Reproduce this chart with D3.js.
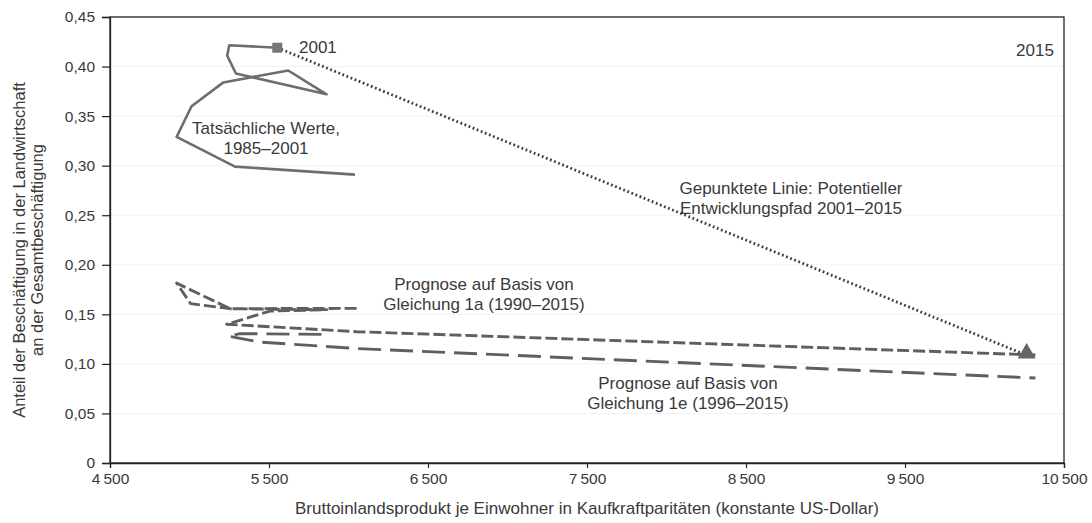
<!DOCTYPE html>
<html><head><meta charset="utf-8">
<script src="https://cdn.jsdelivr.net/npm/d3@7"></script>
<style>
html,body{margin:0;padding:0;background:#fff;}
svg text{font-family:"Liberation Sans",Arial,sans-serif;fill:#3a3a3a;}
</style></head>
<body><svg id="c" width="1092" height="523"></svg>
<script>
// ---- data ----
const xTicks = [4500,5500,6500,7500,8500,9500,10500];
const yTicks = [0,0.05,0.10,0.15,0.20,0.25,0.30,0.35,0.40,0.45];

const actualGDP   = [6041,5286,4919,5013,5213,5621,5862,5292,5237,5250,5552];
const actualShare = [0.291,0.299,0.329,0.360,0.384,0.396,0.372,0.393,0.411,0.4215,0.419];

const potentialGDP   = [5552,10265];
const potentialShare = [0.419,0.1087];

const prog1aGDP   = [6051,5255,4919,5007,5255,5863,5506,5234,6051,10320];
const prog1aShare = [0.156,0.1557,0.1815,0.1608,0.1557,0.1547,0.1533,0.1400,0.1325,0.109];

const prog1eGDP   = [5830,5318,5244,5443,6051,10320];
const prog1eShare = [0.1298,0.1305,0.128,0.122,0.1155,0.0857];

const xTitle = "Bruttoinlandsprodukt je Einwohner in Kaufkraftparitäten (konstante US-Dollar)";
const yTitle = ["Anteil der Beschäftigung in der Landwirtschaft","an der Gesamtbeschäftigung"];

// ---- layout ----
const L=110,R=1064,T=17,B=463;
const svg=d3.select("#c");
const x=d3.scaleLinear().domain([4500,10500]).range([L,R]);
const y=d3.scaleLinear().domain([0,0.45]).range([B,T]);

// faint grid
svg.append("g").selectAll("line").data(yTicks.slice(1)).join("line")
  .attr("x1",L).attr("x2",R).attr("y1",d=>y(d)).attr("y2",d=>y(d))
  .attr("stroke","#f2f2f2").attr("stroke-width",1);

// frame
svg.append("rect").attr("x",L).attr("y",T).attr("width",R-L).attr("height",B-T)
  .attr("fill","none").attr("stroke","#222").attr("stroke-width",1.3);

const fmtY=d=>d===0?"0":d.toFixed(2).replace(".",",");
const fmtX=d=>{const s=String(d);return s.slice(0,s.length-3)+"\u2009"+s.slice(-3);};

const gy=svg.append("g").attr("transform",`translate(${L},0)`)
  .call(d3.axisLeft(y).tickValues(yTicks).tickFormat(fmtY).tickSize(8).tickPadding(7));
const gx=svg.append("g").attr("transform",`translate(0,${B})`)
  .call(d3.axisBottom(x).tickValues(xTicks).tickFormat(fmtX).tickSize(5).tickPadding(5));
[gy,gx].forEach(g=>{
  g.select(".domain").attr("stroke","#222").attr("stroke-width",1.3);
  g.selectAll(".tick line").attr("stroke","#222").attr("stroke-width",1.2);
  g.selectAll(".tick text").style("font-size","15.5px").attr("fill","#3a3a3a")
   .style("font-family",'"Liberation Sans",Arial,sans-serif');
});

// axis titles
svg.append("text").attr("x",(L+R)/2).attr("y",514).attr("text-anchor","middle")
  .style("font-size","17px").text(xTitle);
const yt=svg.append("text").attr("transform",`translate(25,250) rotate(-90)`)
  .attr("text-anchor","middle").style("font-size","16.5px");
yTitle.forEach((t,i)=>yt.append("tspan").attr("x",0).attr("dy",i===0?0:18).text(t));

const line=d3.line().x(d=>x(d[0])).y(d=>y(d[1]));
const zip=(a,b)=>a.map((v,i)=>[v,b[i]]);

// forecast lines
svg.append("path").datum(zip(prog1aGDP,prog1aShare)).attr("d",line)
  .attr("fill","none").attr("stroke","#5f5f5f").attr("stroke-width",2.9)
  .attr("stroke-dasharray","12,4").attr("stroke-linejoin","round");
svg.append("path").datum(zip(prog1eGDP,prog1eShare)).attr("d",line)
  .attr("fill","none").attr("stroke","#5f5f5f").attr("stroke-width",2.9)
  .attr("stroke-dasharray","23,9").attr("stroke-linejoin","round");

// potential path (dotted)
svg.append("path").datum(zip(potentialGDP,potentialShare)).attr("d",line)
  .attr("fill","none").attr("stroke","#3e3e3e").attr("stroke-width",2.8)
  .attr("stroke-dasharray","1.8,2.6");

// actual
svg.append("path").datum(zip(actualGDP,actualShare)).attr("d",line)
  .attr("fill","none").attr("stroke","#6e6e6e").attr("stroke-width",2.6)
  .attr("stroke-linejoin","round");

// markers
const last=actualGDP.length-1;
svg.append("rect").attr("x",x(actualGDP[last])-5).attr("y",y(actualShare[last])-5)
  .attr("width",10).attr("height",10).attr("fill","#777");
svg.append("path").attr("d",d3.symbol().type(d3.symbolTriangle).size(140)())
  .attr("transform",`translate(${x(potentialGDP[1])},${y(potentialShare[1])-2})`)
  .attr("fill","#666");

// annotations
function label(xp,yp,lines,anchor){
  const t=svg.append("text").attr("text-anchor",anchor||"middle").style("font-size","17px");
  lines.forEach((s,i)=>t.append("tspan").attr("x",xp).attr("y",yp+i*20).text(s));
}
label(299,53,["2001"],"start");
label(1035,56,["2015"]);
label(266,134,["Tatsächliche Werte,","1985–2001"]);
label(791,194,["Gepunktete Linie: Potentieller","Entwicklungspfad 2001–2015"]);
label(484,290,["Prognose auf Basis von","Gleichung 1a (1990–2015)"]);
label(688,389,["Prognose auf Basis von","Gleichung 1e (1996–2015)"]);
</script></body></html>
